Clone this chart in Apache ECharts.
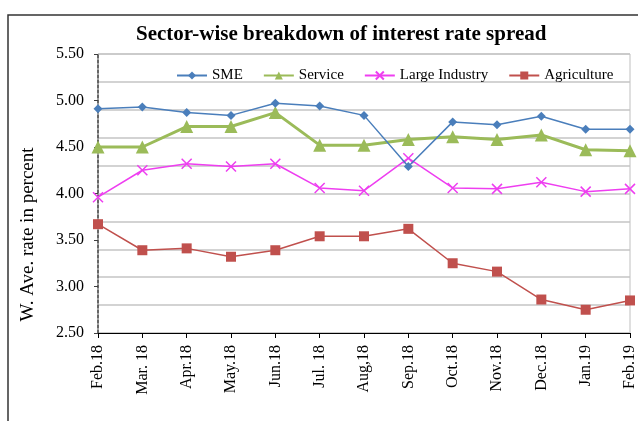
<!DOCTYPE html>
<html>
<head>
<meta charset="utf-8">
<script src="https://cdn.jsdelivr.net/npm/echarts@6/dist/echarts.min.js"></script>
<style>
  html, body { margin: 0; padding: 0; background: #fff; }
  #chart { width: 638px; height: 421px; }
</style>
</head>
<body>
<div id="chart"></div>
<script>
// months on the x axis (text as printed in the source)
var months = ["Feb.18", "Mar. 18", "Apr.18", "May.18", "Jun.18", "Jul. 18", "Aug,18",
  "Sep.18", "Oct.18", "Nov.18", "Dec.18", "Jan.19", "Feb.19"];

// weighted average rates, percent
var sme = [4.91, 4.93, 4.87, 4.84, 4.97, 4.94, 4.84, 4.29, 4.77, 4.74, 4.83, 4.69, 4.69];
var service = [4.50, 4.50, 4.72, 4.72, 4.87, 4.52, 4.52, 4.58, 4.61, 4.58, 4.63, 4.47, 4.46];
var largeIndustry = [3.96, 4.25, 4.32, 4.29, 4.32, 4.06, 4.03, 4.38, 4.06, 4.05, 4.12, 4.02, 4.05];
var agriculture = [3.67, 3.39, 3.41, 3.32, 3.39, 3.54, 3.54, 3.62, 3.25, 3.16, 2.86, 2.75, 2.85];

var serif = "'Liberation Serif', 'Times New Roman', serif";

var chart = echarts.init(document.getElementById("chart"));

var option = {
  animation: false,
  backgroundColor: "#fff",
  title: {
    text: "Sector-wise breakdown of interest rate spread",
    left: 131,
    top: 19,
    textStyle: {
      fontFamily: serif,
      fontSize: 21,
      fontWeight: "bold",
      color: "#000",
    },
  },
  graphic: [
    {
      // outer chart frame
      type: "rect",
      shape: { x: 8, y: 15, width: 700, height: 500 },
      style: { fill: "none", stroke: "#333", lineWidth: 1.5 },
      silent: true,
    },
  ],
  legend: {
    left: 171,
    top: 63,
    itemGap: 20,
    itemWidth: 30,
    itemHeight: 10,
    textStyle: { fontFamily: serif, fontSize: 15, color: "#000" },
    data: ["SME", "Service", "Large Industry", "Agriculture"],
  },
  grid: {
    left: 98,
    right: 7,
    top: 54,
    bottom: 88,
    show: true,
    borderColor: "#bfbfbf",
    borderWidth: 1,
  },
  xAxis: {
    type: "category",
    boundaryGap: false,
    data: months,
    axisLine: { lineStyle: { color: "#000", width: 1.2 } },
    axisTick: { show: true, length: 5, alignWithLabel: true, lineStyle: { color: "#000" } },
    axisLabel: {
      rotate: 90,
      margin: 12,
      interval: 0,
      fontFamily: serif,
      fontSize: 16,
      color: "#000",
    },
  },
  yAxis: [
    {
      type: "value",
      min: 2.5,
      max: 5.5,
      interval: 0.5,
      name: "W. Ave. rate in percent",
      nameLocation: "middle",
      nameGap: 60,
      nameTextStyle: { fontFamily: serif, fontSize: 19, color: "#000", padding: [0, 82, 0, 0] },
      axisLine: { show: true, lineStyle: { color: "#404040", width: 1.5, type: [3, 2] } },
      axisTick: { show: true, length: 4, lineStyle: { color: "#404040" } },
      splitLine: { show: false },
      axisLabel: {
        margin: 14,
        fontFamily: serif,
        fontSize: 16,
        color: "#000",
        formatter: function (v) { return v.toFixed(2); },
      },
    },
    {
      // the gridlines of the source do not line up with the labels
      type: "value",
      min: 0,
      max: 10,
      interval: 1,
      position: "right",
      axisLine: { show: false },
      axisTick: { show: false },
      axisLabel: { show: false },
      splitLine: { show: true, lineStyle: { color: "#c4c4c4", width: 1.5 } },
    },
  ],
  series: [
    {
      name: "SME",
      type: "line",
      data: sme,
      color: "#4a7ebb",
      symbol: "diamond",
      symbolSize: 9,
      lineStyle: { width: 1.5 },
      z: 4,
    },
    {
      name: "Service",
      type: "line",
      data: service,
      color: "#9bbb59",
      symbol: "triangle",
      symbolSize: 13,
      lineStyle: { width: 3 },
      z: 3,
    },
    {
      name: "Large Industry",
      type: "line",
      data: largeIndustry,
      color: "#ee3ef0",
      symbol: "path://M0,0L10,10M10,0L0,10",
      symbolSize: 10,
      itemStyle: { borderColor: "#ee3ef0", borderWidth: 1.5 },
      lineStyle: { width: 1.5 },
      z: 2,
    },
    {
      name: "Agriculture",
      type: "line",
      data: agriculture,
      color: "#c0504d",
      symbol: "rect",
      symbolSize: 10,
      lineStyle: { width: 1.5 },
      z: 2,
    },
  ],
};

chart.setOption(option);
</script>
</body>
</html>
